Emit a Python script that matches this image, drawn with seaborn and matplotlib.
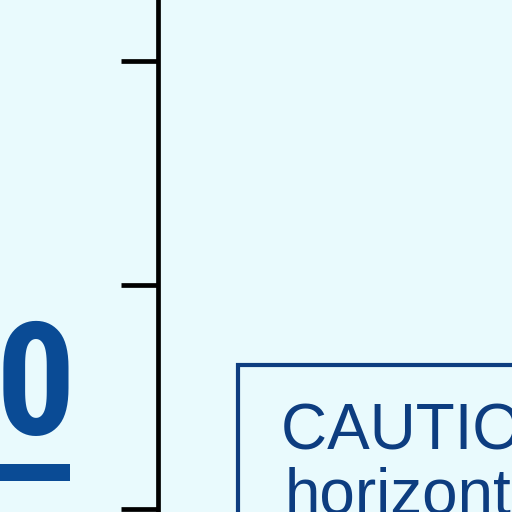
import matplotlib
matplotlib.use("Agg")
import matplotlib.pyplot as plt
from matplotlib.patches import Rectangle
import seaborn as sns

y_ticks = [0, 1, 2]
y_limits = [-0.013, 2.272]
big_label = "0"
caution_lines = ["CAUTION: ", "horizontal"]

BG = "#e9fafd"
NAVY = "#0d3d80"
LABEL_BLUE = "#0a4b95"

sns.set_theme(style="ticks")
plt.rcParams['font.family'] = ['Liberation Sans', 'DejaVu Sans']

fig = plt.figure(figsize=[5.12, 5.12], dpi=100, facecolor=BG)
ax = fig.add_axes([158 / 512, 0, 1 - 158 / 512 + 0.2, 1])
ax.set_facecolor(BG)
ax.set_ylim(*y_limits)
ax.set_xlim(0, 1)
ax.set_yticks(y_ticks)
ax.set_yticklabels([])
ax.set_xticks([])
ax.tick_params(axis='y', length=27, width=3.4, color='black', direction='out')
sns.despine(ax=ax, left=False, bottom=True, top=True, right=True)
ax.spines['left'].set_linewidth(3.4)
ax.spines['left'].set_color('black')

# big partial tick label at the left edge with its underline
fig.text(-0.008, 1 - 391 / 512, big_label, fontsize=114, fontweight='bold',
         family=['Liberation Sans Narrow', 'Roboto Condensed', 'Roboto', 'DejaVu Sans'],
         color=LABEL_BLUE, ha='left', va='center', transform=fig.transFigure)
fig.patches.append(Rectangle((0, 1 - 481 / 512), 70 / 512, 17 / 512, transform=fig.transFigure,
                             facecolor=LABEL_BLUE, edgecolor='none'))

# caution box running off the frame
fig.patches.append(Rectangle((238 / 512, -0.1), 0.8, 1 - 365 / 512 + 0.1, transform=fig.transFigure,
                             facecolor='none', edgecolor=NAVY, linewidth=3.0))
fig.text(281 / 512, 1 - 432 / 512, caution_lines[0], fontsize=46, color=NAVY, ha='left', va='center')
fig.text(285 / 512, 1 - 496 / 512, caution_lines[1], fontsize=46, color=NAVY, ha='left', va='center')

plt.savefig('out.png', dpi=100, facecolor=BG)
